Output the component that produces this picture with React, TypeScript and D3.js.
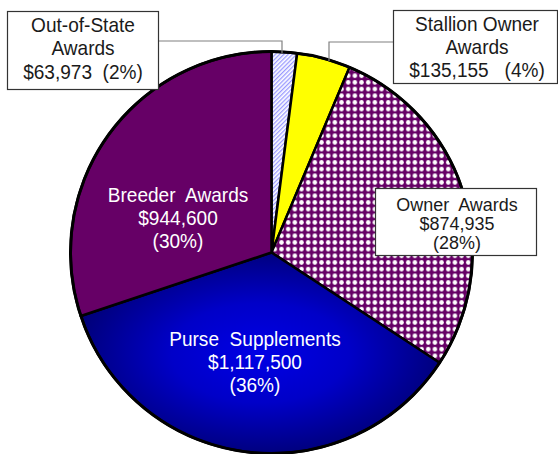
import React from "react";
import * as d3 from "d3";

// ---- data ----
const categories = [
  "Out-of-State Awards",
  "Stallion Owner Awards",
  "Owner Awards",
  "Purse Supplements",
  "Breeder Awards",
];
const values = [63973, 135155, 874935, 1117500, 944600];
const labelLines = [
  ["Out-of-State", "Awards", "$63,973  (2%)"],
  ["Stallion Owner", "Awards", "$135,155   (4%)"],
  ["Owner  Awards", "$874,935", "(28%)"],
  ["Purse  Supplements", "$1,117,500", "(36%)"],
  ["Breeder  Awards", "$944,600", "(30%)"],
];

// ---- layout / style ----
const W = 558;
const H = 454;
const cx = 271.5;
const cy = 252.5;
const R = 201;
const fills = [
  "url(#hatchLav)",
  "#ffff00",
  "url(#dotsPurple)",
  "url(#purseGrad)",
  "#660066",
];
const labelLayout = [
  { x: 83, y: 32, lh: 23.5, fs: 20.5, sx: 0.93, color: "#1a1a1a", box: [7, 11, 151, 78] },
  { x: 477, y: 31, lh: 23, fs: 20.5, sx: 0.93, color: "#1a1a1a", box: [393, 10, 164, 73] },
  { x: 457, y: 211, lh: 19, fs: 18.5, sx: 0.97, color: "#1a1a1a", box: [375, 188, 161, 67] },
  { x: 255, y: 346, lh: 23, fs: 20.5, sx: 0.93, color: "#ffffff", box: null },
  { x: 178, y: 202, lh: 23, fs: 20.5, sx: 0.93, color: "#ffffff", box: null },
];
const leaders = [
  [[158, 41], [282, 41], [282, 53]],
  [[393, 42], [329, 42], [329, 61]],
];

export default function App() {
  const pie = d3
    .pie<number>()
    .sort(null)
    .value((d) => d)
    .startAngle(0)
    .endAngle(2 * Math.PI);
  const arcs = pie(values);
  const arc = d3.arc<d3.PieArcDatum<number>>().innerRadius(0).outerRadius(R);
  const line = d3.line();

  return (
    <div style={{ position: "absolute", left: 0, top: 0 }}>
      <svg width={W} height={H} style={{ display: "block", background: "#fff" }}>
        <defs>
          <pattern
            id="hatchLav"
            patternUnits="userSpaceOnUse"
            width={3}
            height={3}
            patternTransform="rotate(45)"
          >
            <rect width={3} height={3} fill="#ffffff" />
            <rect width={1.3} height={3} fill="#9a9aff" />
          </pattern>
          <pattern
            id="dotsPurple"
            patternUnits="userSpaceOnUse"
            width={6.67}
            height={6.67}
          >
            <rect width={6.67} height={6.67} fill="#660066" />
            <circle cx={3.33} cy={3.33} r={2.3} fill="#ffffff" />
          </pattern>
          <radialGradient id="purseGrad" cx="0.5" cy="0.5" r="0.55">
            <stop offset="0%" stopColor="#0000e6" />
            <stop offset="45%" stopColor="#0000c8" />
            <stop offset="100%" stopColor="#000070" />
          </radialGradient>
        </defs>

        <g transform={`translate(${cx},${cy})`}>
          {arcs.map((a, i) => (
            <path
              key={categories[i]}
              d={arc(a) || ""}
              fill={fills[i]}
              stroke="#000"
              strokeWidth={2.5}
              strokeLinejoin="round"
            />
          ))}
          <circle r={R} fill="none" stroke="#000" strokeWidth={3} />
        </g>

        {leaders.map((pts, i) => (
          <path
            key={"lead" + i}
            d={line(pts as [number, number][]) || ""}
            fill="none"
            stroke="#808080"
            strokeWidth={1.2}
          />
        ))}

        {labelLayout.map((L, i) => (
          <g key={"lab" + i}>
            {L.box && (
              <rect
                x={L.box[0] + 0.5}
                y={L.box[1] + 0.5}
                width={L.box[2]}
                height={L.box[3]}
                fill="#ffffff"
                stroke="#333"
                strokeWidth={1.2}
              />
            )}
            <g transform={`translate(${L.x},0) scale(${L.sx},1)`}>
              <text
                textAnchor="middle"
                fill={L.color}
                style={{
                  fontFamily: "'Liberation Sans', Arial, sans-serif",
                  fontSize: `${L.fs}px`,
                  whiteSpace: "pre",
                }}
              >
                {labelLines[i].map((t, j) => (
                  <tspan key={j} x={0} y={L.y + j * L.lh}>
                    {t}
                  </tspan>
                ))}
              </text>
            </g>
          </g>
        ))}
      </svg>
    </div>
  );
}
